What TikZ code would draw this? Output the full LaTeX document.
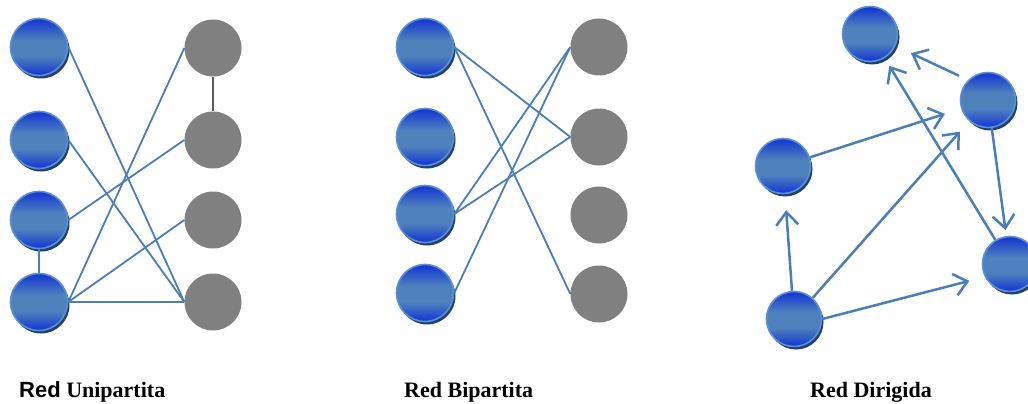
\documentclass[tikz,border=0pt]{standalone}
\usepackage{fontspec}
\setmainfont{Liberation Serif}
\newfontfamily\labelsans{Liberation Sans}
\usetikzlibrary{shadows,arrows.meta}

\definecolor{balldark}{HTML}{1234D4}
\definecolor{ballmid}{HTML}{4F81BD}
\definecolor{ballrim}{HTML}{5B90D4}
\definecolor{ballshade}{HTML}{20406E}
\definecolor{edgeblue}{HTML}{4A7EBB}
\definecolor{grayball}{HTML}{808080}
\definecolor{grayedge}{HTML}{595959}

% glossy ball: dark blue at top and bottom, steel-blue band across the middle
\pgfdeclareverticalshading{ballshading}{100bp}{%
  color(0bp)=(balldark); color(25bp)=(balldark); color(42bp)=(ballmid);
  color(56bp)=(ballmid); color(75bp)=(balldark); color(100bp)=(balldark)}

\tikzset{
  ball/.style={circle, minimum size=57pt, inner sep=0pt, draw=ballrim, line width=1.6pt,
    shading=ballshading,
    drop shadow={fill=ballshade, opacity=1, shadow xshift=2pt, shadow yshift=-3pt}},
  gball/.style={circle, minimum size=57pt, inner sep=0pt, fill=grayball},
  link/.style={draw=edgeblue, line width=1.8pt},
  glink/.style={draw=grayedge, line width=2.4pt},
  arc/.style={draw=edgeblue, line width=2.5pt, -{Straight Barb[length=13pt,width=22pt]}},
  caption/.style={anchor=base west, inner sep=0pt, font=\fontsize{22}{26}\selectfont\bfseries}
}

\begin{document}
\begin{tikzpicture}[x=1pt, y=-1pt]
  \path[use as bounding box, clip] (0,0) rectangle (1028,404);

  % --- one-mode network ---
  \node[ball] (u1) at (39,47) {};
  \node[ball] (u2) at (39,140) {};
  \node[ball] (u3) at (39,220) {};
  \node[ball] (u4) at (39,302) {};
  \node[gball] (v1) at (213,48) {};
  \node[gball] (v2) at (213,140) {};
  \node[gball] (v3) at (213,220) {};
  \node[gball] (v4) at (213,302) {};

  \draw[link] (u1.east) -- (v4.west);
  \draw[link] (u2.east) -- (v4.west);
  \draw[link] (u3.east) -- (v2.west);
  \draw[link] (u4.east) -- (v1.west);
  \draw[link] (u4.east) -- (v3.west);
  \draw[link] (u4.east) -- (v4.west);
  \draw[link] (u3.south) -- (u4.north);
  \draw[glink] (v1.south) -- (v2.north);

  % --- two-mode network ---
  \node[ball] (p1) at (425,47) {};
  \node[ball] (p2) at (425,137) {};
  \node[ball] (p3) at (425,214) {};
  \node[ball] (p4) at (425,293) {};
  \node[gball] (q1) at (599,47) {};
  \node[gball] (q2) at (599,137) {};
  \node[gball] (q3) at (599,215) {};
  \node[gball] (q4) at (599,294) {};

  \draw[link] (p1.east) -- (q2.west);
  \draw[link] (p1.east) -- (q4.west);
  \draw[link] (p3.east) -- (q1.west);
  \draw[link] (p3.east) -- (q2.west);
  \draw[link] (p4.east) -- (q1.west);

  % --- directed network ---
  \node[ball, minimum size=55pt] (A) at (870,34) {};
  \node[ball, minimum size=55pt] (B) at (988,100) {};
  \node[ball, minimum size=55pt] (C) at (783,166) {};
  \node[ball, minimum size=55pt] (D) at (1010,264) {};
  \node[ball, minimum size=55pt] (E) at (794,319) {};

  \draw[arc, shorten <=10pt, shorten >=17pt] (B.135) -- (A);
  \draw[arc, shorten >=17pt] (C) -- (B);
  \draw[arc, shorten >=14pt] (E) -- (B);
  \draw[arc, shorten >=6pt] (B) -- (D);
  \draw[arc, shorten >=9pt] (D) -- (A);
  \draw[arc, shorten >=16pt] (E) -- (C);
  \draw[arc, shorten >=16pt] (E.east) -- (D.207);

  % --- captions ---
  \node[caption] (t1) at (19,397) {{\labelsans Red} Unipartita};
  \node[caption] (t2) at (404,397) {Red Bipartita};
  \node[caption] (t3) at (810,397) {Red Dirigida};
\end{tikzpicture}
\end{document}
